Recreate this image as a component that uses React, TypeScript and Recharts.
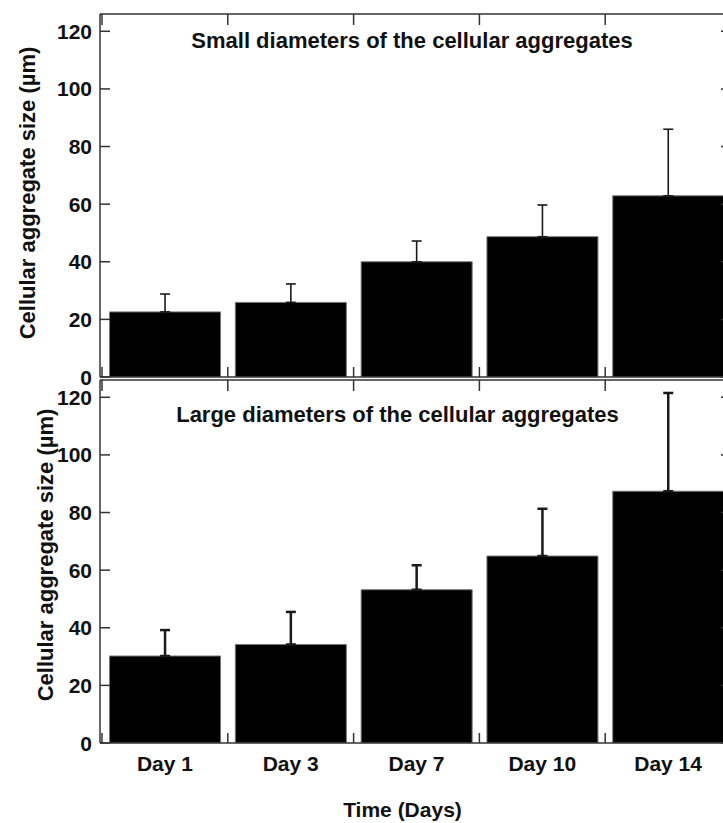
import React from 'react';
import { BarChart, Bar, XAxis, YAxis, ErrorBar } from 'recharts';

const categories = ['Day 1', 'Day 3', 'Day 7', 'Day 10', 'Day 14'];
const smallMean = [22.6, 25.9, 40.0, 48.7, 62.9];
const smallSD = [6.2, 6.4, 7.2, 11.0, 23.1];
const largeMean = [30.2, 34.2, 53.2, 64.9, 87.4];
const largeSD = [9.0, 11.3, 8.5, 16.4, 34.1];
const yTicks = [0, 20, 40, 60, 80, 100, 120];
const yDomainMax = 126;

const smallTitle = 'Small diameters of the cellular aggregates';
const largeTitle = 'Large diameters of the cellular aggregates';
const yLabel = 'Cellular aggregate size (µm)';
const xLabel = 'Time (Days)';

const FONT = '"Liberation Sans", Arial, Helvetica, sans-serif';
const AXIS = '#333';
const TEXT = '#111';

const smallData = categories.map((day, i) => ({ day, value: smallMean[i], err: [0, smallSD[i]] }));
const largeData = categories.map((day, i) => ({ day, value: largeMean[i], err: [0, largeSD[i]] }));

const halfBand = (props: any) => {
  const off = props.payload && props.payload.offset;
  if (typeof off === 'number' && off > 0) return off;
  return (props.width - 2) / categories.length / 2;
};

const LeftTick = (props: any) => {
  const { x, y, payload } = props;
  return (
    <g>
      <line x1={x} x2={x + 10} y1={y} y2={y} stroke={AXIS} strokeWidth={1.5} />
      <text x={x - 8} y={y} dy="0.36em" textAnchor="end" fontFamily={FONT} fontSize={21} fontWeight="bold" fill={TEXT}>
        {payload.value}
      </text>
    </g>
  );
};

const RightTick = (props: any) => {
  const { x, y } = props;
  return <line x1={x - 10} x2={x} y1={y} y2={y} stroke={AXIS} strokeWidth={1.5} />;
};

const TopTick = (props: any) => {
  const { x, y, index } = props;
  const h = halfBand(props);
  return (
    <g>
      <line x1={x - h} x2={x - h} y1={y} y2={y + 11} stroke={AXIS} strokeWidth={1.5} />
      {index === categories.length - 1 ? (
        <line x1={x + h} x2={x + h} y1={y} y2={y + 11} stroke={AXIS} strokeWidth={1.5} />
      ) : null}
    </g>
  );
};

const makeBottomTick = (withLabel: boolean) => (props: any) => {
  const { x, y, index, payload } = props;
  const h = halfBand(props);
  return (
    <g>
      <line x1={x - h} x2={x - h} y1={y} y2={y - 10} stroke={AXIS} strokeWidth={1.5} />
      {index === categories.length - 1 ? (
        <line x1={x + h} x2={x + h} y1={y} y2={y - 10} stroke={AXIS} strokeWidth={1.5} />
      ) : null}
      {withLabel ? (
        <text x={x} y={y + 28} textAnchor="middle" fontFamily={FONT} fontSize={21} fontWeight="bold" fill={TEXT}>
          {payload.value}
        </text>
      ) : null}
    </g>
  );
};

const BottomTickNoLabel = makeBottomTick(false);
const BottomTickLabel = makeBottomTick(true);

const makeTitle = (title: string, dx: number, dy: number) => (p: any) => {
  const vb = p.viewBox || {};
  return (
    <text
      x={vb.x + vb.width / 2 + dx}
      y={vb.y + vb.height + dy}
      textAnchor="middle"
      fontFamily={FONT}
      fontSize={22}
      fontWeight="bold"
      fill={TEXT}
    >
      {title}
    </text>
  );
};

const makeYLabel = (cx: number, dy: number) => (p: any) => {
  const vb = p.viewBox || {};
  const cy = vb.y + vb.height / 2 + dy;
  const x = vb.x + cx;
  return (
    <text
      transform={`translate(${x}, ${cy}) rotate(-90)`}
      textAnchor="middle"
      dominantBaseline="central"
      fontFamily={FONT}
      fontSize={22}
      fontWeight="bold"
      fill={TEXT}
    >
      {yLabel}
    </text>
  );
};

const makeXLabel = (dx: number, dy: number) => (p: any) => {
  const vb = p.viewBox || {};
  return (
    <text
      x={vb.x + vb.width / 2 + dx}
      y={vb.y + dy}
      textAnchor="middle"
      fontFamily={FONT}
      fontSize={21}
      fontWeight="bold"
      fill={TEXT}
    >
      {xLabel}
    </text>
  );
};

const PAD = { left: 2, right: 0 };

function Panel(props: {
  data: any[];
  height: number;
  marginBottom: number;
  bottomHeight: number;
  withLabels: boolean;
  title: string;
  titleDx: number;
  titleDy: number;
  yLabelX: number;
  yLabelDy: number;
  errWidth: number;
}) {
  const p = props;
  return (
    <BarChart
      width={740}
      height={p.height}
      data={p.data}
      margin={{ top: 13, right: 8, bottom: p.marginBottom, left: 0 }}
      barCategoryGap="6%"
    >
      <XAxis
        xAxisId="top"
        dataKey="day"
        type="category"
        orientation="top"
        interval={0}
        height={1}
        tickSize={0}
        tickMargin={0}
        tickLine={false}
        tick={<TopTick />}
        axisLine={{ stroke: AXIS, strokeWidth: 1.5 }}
        padding={PAD}
        label={{ content: makeTitle(p.title, p.titleDx, p.titleDy) }}
      />
      <XAxis
        xAxisId="bot"
        dataKey="day"
        type="category"
        orientation="bottom"
        interval={0}
        height={p.bottomHeight}
        tickSize={0}
        tickMargin={0}
        tickLine={false}
        tick={p.withLabels ? <BottomTickLabel /> : <BottomTickNoLabel />}
        axisLine={{ stroke: AXIS, strokeWidth: 1.5 }}
        padding={PAD}
        label={p.withLabels ? { content: makeXLabel(-13, 74) } : undefined}
      />
      <YAxis
        yAxisId="l"
        orientation="left"
        type="number"
        domain={[0, yDomainMax]}
        allowDataOverflow
        ticks={yTicks}
        interval={0}
        width={100}
        tickSize={0}
        tickMargin={0}
        tickLine={false}
        tick={<LeftTick />}
        axisLine={{ stroke: AXIS, strokeWidth: 1.5 }}
        label={{ content: makeYLabel(p.yLabelX, p.yLabelDy) }}
      />
      <YAxis
        yAxisId="r"
        orientation="right"
        type="number"
        domain={[0, yDomainMax]}
        allowDataOverflow
        ticks={yTicks}
        interval={0}
        width={1}
        tickSize={0}
        tickMargin={0}
        tickLine={false}
        tick={<RightTick />}
        axisLine={{ stroke: AXIS, strokeWidth: 1.5 }}
      />
      <Bar
        xAxisId="bot"
        yAxisId="l"
        dataKey="value"
        fill="#000"
        stroke="#777"
        strokeWidth={1}
        isAnimationActive={false}
      >
        <ErrorBar
          dataKey="err"
          direction="y"
          width={5}
          stroke="#1a1a1a"
          strokeWidth={p.errWidth}
          isAnimationActive={false}
        />
      </Bar>
    </BarChart>
  );
}

export default function App() {
  return (
    <div
      style={{
        position: 'fixed',
        left: 0,
        top: 0,
        width: 723,
        height: 823,
        overflow: 'hidden',
        background: '#fff',
      }}
    >
      <div style={{ position: 'absolute', left: 0, top: 0 }}>
        <Panel
          data={smallData}
          height={392}
          marginBottom={14}
          bottomHeight={1}
          withLabels={false}
          title={smallTitle}
          titleDx={-3.5}
          titleDy={34}
          yLabelX={27}
          yLabelDy={-2.5}
          errWidth={1.6}
        />
      </div>
      <div style={{ position: 'absolute', left: 0, top: 366 }}>
        <Panel
          data={largeData}
          height={457}
          marginBottom={0}
          bottomHeight={80}
          withLabels={true}
          title={largeTitle}
          titleDx={-18}
          titleDy={41.7}
          yLabelX={45}
          yLabelDy={-6.5}
          errWidth={2.5}
        />
      </div>
    </div>
  );
}
